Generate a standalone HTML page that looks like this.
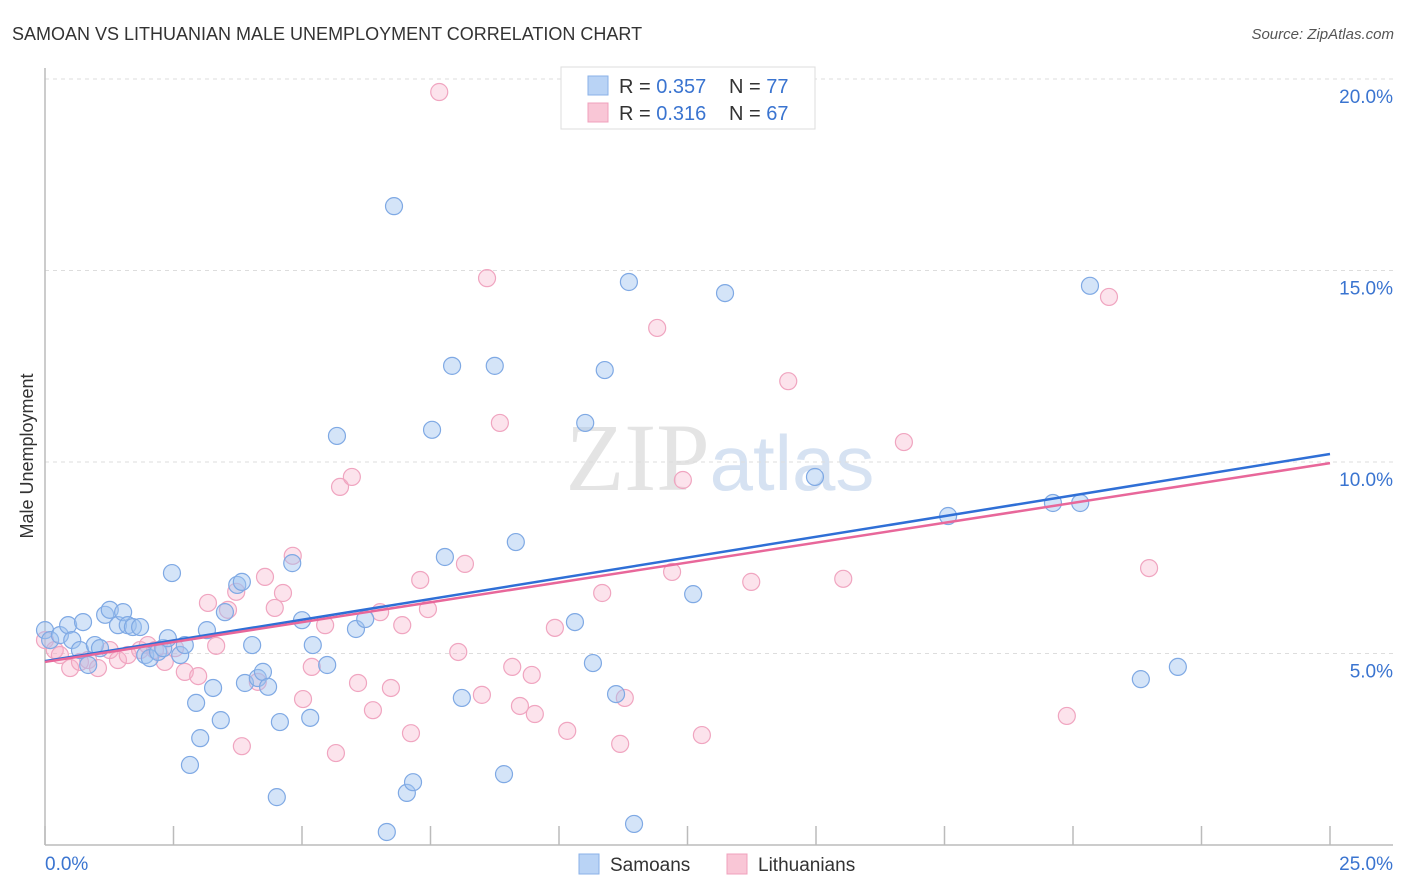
<!DOCTYPE html>
<html><head><meta charset="utf-8"><style>
body{margin:0;background:#fff;width:1406px;height:892px;overflow:hidden;font-family:"Liberation Sans",sans-serif}
svg{display:block}
</style></head><body>
<svg id="chart" width="1406" height="892" viewBox="0 0 1406 892">
<text x="12" y="40" font-size="18" fill="#333">SAMOAN VS LITHUANIAN MALE UNEMPLOYMENT CORRELATION CHART</text>
<text x="1394" y="39" font-size="15" fill="#555" font-style="italic" text-anchor="end">Source: ZipAtlas.com</text>
<text x="720" y="490" font-size="96" text-anchor="middle" fill="#e4e4e4" font-family="Liberation Serif">ZIP<tspan fill="#d6e2f2" font-family="Liberation Sans" font-size="78">atlas</tspan></text>
<g id="grid"></g>
<g id="axes"></g>
<g id="marks"></g>
<g id="lines"></g>
<text transform="translate(33,456) rotate(-90)" font-size="18" fill="#333" text-anchor="middle">Male Unemployment</text>
<g>
<rect x="561" y="67" width="254" height="62" fill="#fff" stroke="#ddd"/>
<rect x="588" y="76" width="20" height="19" fill="#b9d3f5" stroke="#8ab2e8"/>
<text x="619" y="93" font-size="20" fill="#333">R = <tspan fill="#3a74d0">0.357</tspan></text>
<text x="729" y="93" font-size="20" fill="#333">N = <tspan fill="#3a74d0">77</tspan></text>
<rect x="588" y="103" width="20" height="19" fill="#f9c6d6" stroke="#f0a0bc"/>
<text x="619" y="120" font-size="20" fill="#333">R =  <tspan fill="#3a74d0">0.316</tspan></text>
<text x="729" y="120" font-size="20" fill="#333">N = <tspan fill="#3a74d0">67</tspan></text>
</g>
<g>
<rect x="579" y="854" width="20" height="20" fill="#b9d3f5" stroke="#8ab2e8"/>
<text x="610" y="871" font-size="19" fill="#333">Samoans</text>
<rect x="727" y="854" width="20" height="20" fill="#f9c6d6" stroke="#f0a0bc"/>
<text x="758" y="871" font-size="19" fill="#333">Lithuanians</text>
</g>
</svg>
<script>
const xTicks=[0,2.5,5,7.5,10,12.5,15,17.5,20,22.5,25];
const yTicks=[5,10,15,20];
const yTickLabels=["5.0%","10.0%","15.0%","20.0%"];
const xEndLabels=["0.0%","25.0%"];
const samoanX=[0,0.10,0.29,0.45,0.53,0.68,0.74,0.84,0.97,1.07,1.17,1.26,1.42,1.52,1.61,1.71,1.85,1.95,2.04,2.20,2.30,2.39,2.47,2.63,2.72,2.94,2.82,3.02,3.15,3.27,3.42,3.50,3.74,3.83,3.89,4.03,4.14,4.24,4.34,4.51,4.57,4.81,5.00,5.16,5.21,5.49,5.68,6.05,6.23,6.65,6.79,7.04,7.16,7.53,7.78,7.92,8.11,8.75,8.93,9.16,10.31,10.51,10.66,10.89,11.11,11.36,11.46,12.61,13.23,14.98,17.57,19.61,20.14,20.33,21.32,22.04];
const samoanY=[5.61,5.35,5.48,5.74,5.35,5.09,5.82,4.70,5.22,5.14,6.01,6.14,5.74,6.08,5.74,5.69,5.69,4.96,4.88,5.04,5.14,5.40,7.10,4.96,5.22,3.71,2.09,2.79,5.61,4.10,3.26,6.08,6.79,6.87,4.23,5.22,4.36,4.52,4.13,1.25,3.21,7.36,5.87,3.32,5.22,4.70,10.68,5.64,5.90,0.34,16.68,1.36,1.64,10.84,7.52,12.51,3.84,12.51,1.85,7.91,5.82,11.02,4.75,12.40,3.94,14.70,0.55,6.55,14.41,9.61,8.59,8.93,8.93,14.60,4.33,4.65];
const lithX=[0,0.19,0.29,0.49,0.68,0.84,1.03,1.26,1.42,1.61,1.85,2.00,2.14,2.33,2.53,2.72,2.98,3.17,3.33,3.56,3.72,3.83,4.14,4.28,4.47,4.63,4.82,5.02,5.19,5.45,5.66,5.74,5.97,6.09,6.38,6.52,6.73,6.95,7.12,7.30,7.45,7.67,8.04,8.17,8.50,8.60,8.85,9.09,9.24,9.47,9.53,9.92,10.16,10.84,11.19,11.28,11.91,12.20,12.41,12.78,13.74,14.46,15.53,16.71,19.88,20.70,21.48];
const lithY=[5.35,5.09,4.96,4.62,4.78,4.83,4.62,5.09,4.83,4.96,5.09,5.22,5.09,4.78,5.14,4.52,4.41,6.32,5.20,6.14,6.61,2.58,4.26,7.00,6.19,6.58,7.55,3.81,4.65,5.74,2.40,9.35,9.61,4.23,3.52,6.08,4.10,5.74,2.92,6.92,6.16,19.66,5.04,7.34,3.92,14.80,11.02,4.65,3.63,4.44,3.42,5.67,2.98,6.58,2.64,3.84,13.50,7.13,9.53,2.87,6.87,12.11,6.95,10.52,3.37,14.31,7.23];
const samoanTrend=[4.80,10.21];
const lithTrend=[4.78,9.97];
const trendX=[0,25];

const NS="http://www.w3.org/2000/svg";
const X0=45,X1=1330,Y0=845,PXY=38.3;
const sx=v=>X0+v*(X1-X0)/25;
const sy=v=>Y0-v*PXY;
function mk(tag,attrs,parent){const e=document.createElementNS(NS,tag);for(const k in attrs)e.setAttribute(k,attrs[k]);parent.appendChild(e);return e;}
const grid=document.getElementById('grid'),axes=document.getElementById('axes'),marks=document.getElementById('marks'),lines=document.getElementById('lines'),svg=document.getElementById('chart');
yTicks.forEach((t,i)=>{
  const l=mk('line',{x1:X0,x2:1393,y1:sy(t),y2:sy(t),stroke:'#ddd','stroke-dasharray':'4,4'},grid);
  
  
  const tx=mk('text',{x:1393,y:sy(t)+24,'font-size':19,fill:'#3a74d0','text-anchor':'end'},axes);
  tx.textContent=yTickLabels[i];
  
  
});
const topG=mk('line',{x1:X0,x2:1393,y1:79,y2:79,stroke:'#ddd','stroke-dasharray':'4,4'},grid);


const xa=mk('line',{x1:X0,x2:1393,y1:Y0,y2:Y0,stroke:'#bbb','stroke-width':1.5},axes);


const ya=mk('line',{x1:X0,x2:X0,y1:68,y2:Y0,stroke:'#bbb','stroke-width':1.5},axes);


xTicks.forEach(t=>{
  const k=mk('line',{x1:sx(t),x2:sx(t),y1:826,y2:Y0,stroke:'#bbb','stroke-width':1.5},axes);
  
  
});
const xl0=mk('text',{x:45,y:870,'font-size':19,fill:'#3a74d0'},axes);
xl0.textContent=xEndLabels[0];


const xl1=mk('text',{x:1393,y:870,'font-size':19,fill:'#3a74d0','text-anchor':'end'},axes);
xl1.textContent=xEndLabels[1];


function pts(xs,ys,fill,stroke,name){
  xs.forEach((x,i)=>{
    const c=mk('circle',{cx:sx(x),cy:sy(ys[i]),r:8.5,fill:fill,stroke:stroke,'stroke-width':1.2},marks);
    
    
  });
}
pts(lithX,lithY,'rgba(246,176,200,0.35)','#f0a5c0','lithuanian-point');
pts(samoanX,samoanY,'rgba(160,196,240,0.45)','#7fa9e4','samoan-point');
const tl1=mk('line',{x1:sx(trendX[0]),y1:sy(samoanTrend[0]),x2:sx(trendX[1]),y2:sy(samoanTrend[1]),stroke:'#2f6fd6','stroke-width':2.5},lines);


const tl2=mk('line',{x1:sx(trendX[0]),y1:sy(lithTrend[0]),x2:sx(trendX[1]),y2:sy(lithTrend[1]),stroke:'#e8679a','stroke-width':2.5},lines);


</script>
</body></html>
